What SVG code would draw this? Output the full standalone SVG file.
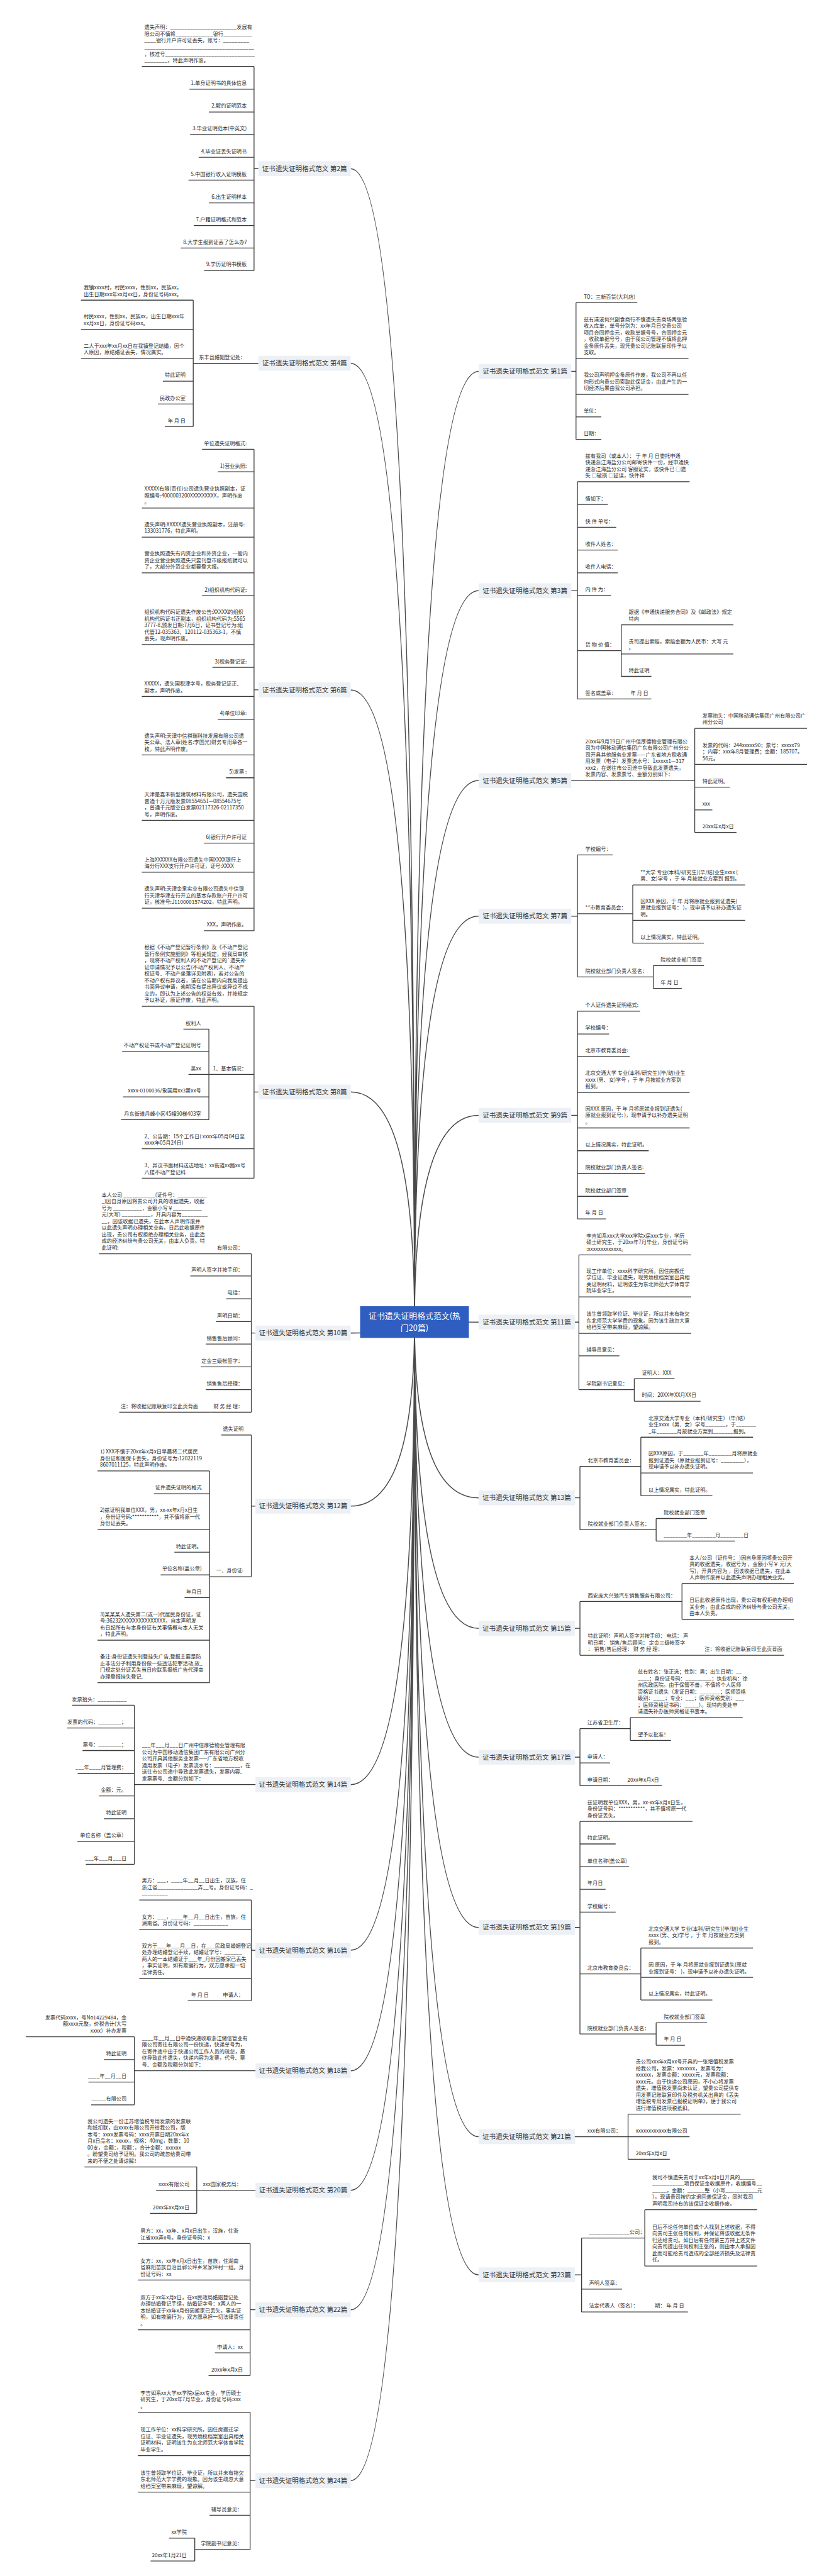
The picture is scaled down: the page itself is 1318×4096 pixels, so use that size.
<svg xmlns="http://www.w3.org/2000/svg" width="1318" height="4096" viewBox="0 0 1318 4096">
<style>
.t{font-family:"Noto Sans CJK SC","Noto Sans",sans-serif;font-size:16px;fill:#2b2b2b}
.e{text-anchor:end}
.u{stroke:#3a3a3a;stroke-width:2.5;fill:none}
.k{stroke:#4a4a4a;stroke-width:3;fill:none}
.lb{fill:#edf0f4}
.lt{font-family:"Noto Sans CJK SC","Noto Sans",sans-serif;font-size:20.5px;fill:#333;text-anchor:middle}
.ct{font-family:"Noto Sans CJK SC","Noto Sans",sans-serif;font-size:25px;fill:#fff;text-anchor:middle}
</style>
<rect width="1318" height="4096" fill="#fff"/>
<g transform="scale(0.5148437)">
<g id="connectors">
<path class="k" d="M1083,521Q1280,521 1280,4083M1083,1122Q1280,1122 1280,4083M1083,2130.7Q1280,2130.7 1280,4083M1083,3372.5Q1280,3372.5 1280,4083M1083,4117Q1280,4117 1280,4083M1083,4651.6Q1280,4651.6 1280,4083M1083,5511.7Q1280,5511.7 1280,4083M1083,6023.2Q1280,6023.2 1280,4083M1083,6395.5Q1280,6395.5 1280,4083M1083,6764.5Q1280,6764.5 1280,4083M1083,7133.5Q1280,7133.5 1280,4083M1083,7661Q1280,7661 1280,4083"/>
<path class="k" d="M1478,1146.8Q1280,1146.8 1280,4083M1478,1824.5Q1280,1824.5 1280,4083M1478,2410.6Q1280,2410.6 1280,4083M1478,2829.6Q1280,2829.6 1280,4083M1478,3444.6Q1280,3444.6 1280,4083M1478,4083.3Q1280,4083.3 1280,4083M1478,4626Q1280,4626 1280,4083M1478,5029Q1280,5029 1280,4083M1478,5426.9Q1280,5426.9 1280,4083M1478,5952.8Q1280,5952.8 1280,4083M1478,6599.1Q1280,6599.1 1280,4083M1478,7025.8Q1280,7025.8 1280,4083"/>
<path class="u" d="M784.5,521H798M784.5,205.3V835.5M784.5,2130.7H798M784.5,1387.7V2874.6M784.5,3372.5H798M784.5,3107.9V3638.8M645,3178.3V3458.2M776,4117H789M776,3872.1V4361.5M776,4651.6H789M776,4431.9V4869.6M647,4543V5197M414.8,5266.6V5757.7M776,6023.2H789M776,5868V6179.2M414.8,6290.4V6500.7M607.6,6692.4V6835.8M772.4,7133.5H789M772.4,6929V7337M772.4,7661H789M772.4,7449.9V7874M601.5,7839V7909.6M596.7,927V1317.3"/>
<path class="u" d="M1764,1146.8H1778.8M1778.8,934.7V1357M1764,1824.5H1783.2M1783.2,1487.8V2158.7M1918.4,1929.7V2089M2145.5,2249.5V2571M1764,2829.6H1783.2M1783.2,2640.5V3017M1954,2733V2912.8M2017.3,2982.3V3052.7M1764,3444.6H1783.2M1783.2,3123.1V3764.4M1775,4083.3H1787.7M1787.7,3875.5V4292M1958.6,4258V4327.6M1775,4626H1790.9M1790.9,4528.6V4724.5M1979,4438.7V4619.4M2026.2,4689.8V4759.3M1775,5029H1790.9M1790.9,4946V5112.2M2106,4890.8V5001M1775,5426.9H1790.9M1790.9,5338.7V5515M1946.5,5304.7V5375.1M1775,5952.8H1790.9M1790.9,5625.4V6281.9M1979,6016.4V6176.7M2026.2,6247.1V6316.6M1939.5,6529.5V6668.7M1775,7025.8H1796M1796,6912.1V7140.3M1991.1,6824.7V6998.6"/>
</g>
<g id="center"><rect x="1112" y="4034" width="336" height="98" fill="#2f5ec0"/><text class="ct" x="1280" y="4073">证书遗失证明格式范文(热</text><text class="ct" x="1280" y="4110">门20篇)</text></g>
<g id="labels">
<g id="L2"><rect class="lb" x="798" y="498" width="285" height="46"/><text class="lt" x="940.5" y="528">证书遗失证明格式范文 第2篇</text></g>
<g id="L4"><rect class="lb" x="798" y="1099" width="285" height="46"/><text class="lt" x="940.5" y="1129">证书遗失证明格式范文 第4篇</text></g>
<g id="L6"><rect class="lb" x="798" y="2107.7" width="285" height="46"/><text class="lt" x="940.5" y="2137.7">证书遗失证明格式范文 第6篇</text></g>
<g id="L8"><rect class="lb" x="798" y="3349.5" width="285" height="46"/><text class="lt" x="940.5" y="3379.5">证书遗失证明格式范文 第8篇</text></g>
<g id="L10"><rect class="lb" x="789" y="4094" width="294" height="46"/><text class="lt" x="936" y="4124">证书遗失证明格式范文 第10篇</text></g>
<g id="L12"><rect class="lb" x="789" y="4628.6" width="294" height="46"/><text class="lt" x="936" y="4658.6">证书遗失证明格式范文 第12篇</text></g>
<g id="L14"><rect class="lb" x="789" y="5488.7" width="294" height="46"/><text class="lt" x="936" y="5518.7">证书遗失证明格式范文 第14篇</text></g>
<g id="L16"><rect class="lb" x="789" y="6000.2" width="294" height="46"/><text class="lt" x="936" y="6030.2">证书遗失证明格式范文 第16篇</text></g>
<g id="L18"><rect class="lb" x="789" y="6372.5" width="294" height="46"/><text class="lt" x="936" y="6402.5">证书遗失证明格式范文 第18篇</text></g>
<g id="L20"><rect class="lb" x="789" y="6741.5" width="294" height="46"/><text class="lt" x="936" y="6771.5">证书遗失证明格式范文 第20篇</text></g>
<g id="L22"><rect class="lb" x="789" y="7110.5" width="294" height="46"/><text class="lt" x="936" y="7140.5">证书遗失证明格式范文 第22篇</text></g>
<g id="L24"><rect class="lb" x="789" y="7638" width="294" height="46"/><text class="lt" x="936" y="7668">证书遗失证明格式范文 第24篇</text></g>
<g id="L1"><rect class="lb" x="1478" y="1123.8" width="286" height="46"/><text class="lt" x="1621" y="1153.8">证书遗失证明格式范文 第1篇</text></g>
<g id="L3"><rect class="lb" x="1478" y="1801.5" width="286" height="46"/><text class="lt" x="1621" y="1831.5">证书遗失证明格式范文 第3篇</text></g>
<g id="L5"><rect class="lb" x="1478" y="2387.6" width="286" height="46"/><text class="lt" x="1621" y="2417.6">证书遗失证明格式范文 第5篇</text></g>
<g id="L7"><rect class="lb" x="1478" y="2806.6" width="286" height="46"/><text class="lt" x="1621" y="2836.6">证书遗失证明格式范文 第7篇</text></g>
<g id="L9"><rect class="lb" x="1478" y="3421.6" width="286" height="46"/><text class="lt" x="1621" y="3451.6">证书遗失证明格式范文 第9篇</text></g>
<g id="L11"><rect class="lb" x="1478" y="4060.3" width="297" height="46"/><text class="lt" x="1626.5" y="4090.3">证书遗失证明格式范文 第11篇</text></g>
<g id="L13"><rect class="lb" x="1478" y="4603" width="297" height="46"/><text class="lt" x="1626.5" y="4633">证书遗失证明格式范文 第13篇</text></g>
<g id="L15"><rect class="lb" x="1478" y="5006" width="297" height="46"/><text class="lt" x="1626.5" y="5036">证书遗失证明格式范文 第15篇</text></g>
<g id="L17"><rect class="lb" x="1478" y="5403.9" width="297" height="46"/><text class="lt" x="1626.5" y="5433.9">证书遗失证明格式范文 第17篇</text></g>
<g id="L19"><rect class="lb" x="1478" y="5929.8" width="297" height="46"/><text class="lt" x="1626.5" y="5959.8">证书遗失证明格式范文 第19篇</text></g>
<g id="L21"><rect class="lb" x="1478" y="6576.1" width="297" height="46"/><text class="lt" x="1626.5" y="6606.1">证书遗失证明格式范文 第21篇</text></g>
<g id="L23"><rect class="lb" x="1478" y="7002.8" width="297" height="46"/><text class="lt" x="1626.5" y="7032.8">证书遗失证明格式范文 第23篇</text></g>
</g>
<g id="b2">
<g id="n2a"><text class="t" x="445.8" y="90.3">遗失声明：_______________________发展有<tspan x="445.8" dy="20.4">限公司不慎将_____________银行__________</tspan><tspan x="445.8" dy="20.4">____银行开户许可证丢失，账号：_________</tspan><tspan x="445.8" dy="20.4">______________________________________</tspan><tspan x="445.8" dy="20.4">，核准号_______________________________</tspan><tspan x="445.8" dy="20.4">________，特此声明作废。</tspan></text><path class="u" d="M437.9,205.3H784.5"/></g>
<g id="n2b"><text class="t e" x="762" y="262.6">1.单身证明书的具体信息</text><path class="u" d="M585,275.6H784.5"/></g>
<g id="n2c"><text class="t e" x="762" y="333">2.解约证明范本</text><path class="u" d="M645,346H784.5"/></g>
<g id="n2d"><text class="t e" x="762" y="402.6">3.毕业证明范本(中英文)</text><path class="u" d="M587,415.6H784.5"/></g>
<g id="n2e"><text class="t e" x="762" y="473">4.毕业证丢失证明书</text><path class="u" d="M613.6,486H784.5"/></g>
<g id="n2f"><text class="t e" x="762" y="543.4">5.中国银行收入证明模板</text><path class="u" d="M582,556.4H784.5"/></g>
<g id="n2g"><text class="t e" x="762" y="613.8">6.出生证明样本</text><path class="u" d="M645,626.8H784.5"/></g>
<g id="n2h"><text class="t e" x="762" y="683.4">7.户籍证明格式和范本</text><path class="u" d="M598.5,696.4H784.5"/></g>
<g id="n2i"><text class="t e" x="762" y="753">8.大学生报到证丢了怎么办?</text><path class="u" d="M558,766H784.5"/></g>
<g id="n2j"><text class="t e" x="762" y="822.5">9.学历证明书模板</text><path class="u" d="M630,835.5H784.5"/></g>
</g>
<g id="b4">
<g id="n4"><text class="t e" x="758" y="1109.2">东丰县婚姻登记处：</text><path class="u" d="M596.7,1122.2H798"/></g>
<g id="n4a"><text class="t" x="258.5" y="893.6">我镇xxxx村，村民xxxx，性别xx，民族xx，<tspan x="258.5" dy="20.4">出生日期xxx年xx月xx日，身份证号码xxx。</tspan></text><path class="u" d="M250,927H596.7"/></g>
<g id="n4b"><text class="t" x="258.5" y="983.6">村民xxxx，性别xx，民族xx，出生日期xxx年<tspan x="258.5" dy="20.4">xx月xx日，身份证号码xxx。</tspan></text><path class="u" d="M250,1017H596.7"/></g>
<g id="n4c"><text class="t" x="258.5" y="1073.6">二人于xxx年xx月xx日在我镇登记结婚，因个<tspan x="258.5" dy="20.4">人原因，原结婚证丢失，情况属实。</tspan></text><path class="u" d="M250,1107H596.7"/></g>
<g id="n4d"><text class="t e" x="573" y="1164.3">特此证明</text><path class="u" d="M503,1177.3H596.7"/></g>
<g id="n4e"><text class="t e" x="573" y="1234.7">民政办公室</text><path class="u" d="M487.6,1247.7H596.7"/></g>
<g id="n4f"><text class="t e" x="573" y="1304.3">年 月 日</text><path class="u" d="M508.8,1317.3H596.7"/></g>
</g>
<g id="b6">
<g id="n6a"><text class="t e" x="762" y="1374.7">单位遗失证明格式:</text><path class="u" d="M624,1387.7H784.5"/></g>
<g id="n6b"><text class="t e" x="762" y="1444.2">1)营业执照:</text><path class="u" d="M673,1457.2H784.5"/></g>
<g id="n6c"><text class="t" x="445.8" y="1515.4">XXXXX有限(责任)公司遗失营业执照副本，证<tspan x="445.8" dy="20.4">照编号:4000003200XXXXXXXXX，声明作废</tspan><tspan x="445.8" dy="20.4">。</tspan></text><path class="u" d="M437.9,1569.2H784.5"/></g>
<g id="n6d"><text class="t" x="445.8" y="1625.7">遗失声明:XXXXX遗失营业执照副本，注册号:<tspan x="445.8" dy="20.4">133031776，特此声明。</tspan></text><path class="u" d="M437.9,1659.1H784.5"/></g>
<g id="n6e"><text class="t" x="445.8" y="1715.6">营业执照遗失有内资企业和外资企业，一般内<tspan x="445.8" dy="20.4">资企业营业执照遗失只要刊登市级报纸就可以</tspan><tspan x="445.8" dy="20.4">了，大部分外资企业都要登大报。</tspan></text><path class="u" d="M437.9,1769.4H784.5"/></g>
<g id="n6f"><text class="t e" x="762" y="1826.8">2)组织机构代码证:</text><path class="u" d="M624,1839.8H784.5"/></g>
<g id="n6g"><text class="t" x="445.8" y="1896.2">组织机构代码证遗失作废公告:XXXXX的组织<tspan x="445.8" dy="20.4">机构代码证书正副本，组织机构代码为;5565</tspan><tspan x="445.8" dy="20.4">3777-8,颁发日期:7月6日，证书登记号为:组</tspan><tspan x="445.8" dy="20.4">代管12-035363、120112-035363-1，不慎</tspan><tspan x="445.8" dy="20.4">丢失，现声明作废。</tspan></text><path class="u" d="M437.9,1990.8H784.5"/></g>
<g id="n6h"><text class="t e" x="762" y="2048.2">3)税务登记证:</text><path class="u" d="M656,2061.2H784.5"/></g>
<g id="n6i"><text class="t" x="445.8" y="2117.7">XXXXX，遗失国税津字号，税务登记证正、<tspan x="445.8" dy="20.4">副本，声明作废。</tspan></text><path class="u" d="M437.9,2151.1H784.5"/></g>
<g id="n6j"><text class="t e" x="762" y="2208.5">4)单位印章:</text><path class="u" d="M672.4,2221.5H784.5"/></g>
<g id="n6k"><text class="t" x="445.8" y="2277.9">遗失声明:天津中信祺瑞科技发展有限公司遗<tspan x="445.8" dy="20.4">失公章、法人章(姓名:李国光)财务专用章各一</tspan><tspan x="445.8" dy="20.4">枚，特此声明作废。</tspan></text><path class="u" d="M437.9,2331.7H784.5"/></g>
<g id="n6l"><text class="t e" x="762" y="2389.2">5)发票 :</text><path class="u" d="M698,2402.2H784.5"/></g>
<g id="n6m"><text class="t" x="445.8" y="2459.4">天津是嘉禾新型建筑材料有限公司，遗失国税<tspan x="445.8" dy="20.4">普通十万元版发票08554651—08554675号</tspan><tspan x="445.8" dy="20.4">，普通千元版空白发票02117326-02117350</tspan><tspan x="445.8" dy="20.4">号，声明作废。</tspan></text><path class="u" d="M437.9,2533.6H784.5"/></g>
<g id="n6n"><text class="t e" x="762" y="2591">6)银行开户许可证</text><path class="u" d="M630,2604H784.5"/></g>
<g id="n6o"><text class="t" x="445.8" y="2660.5">上海XXXXXX有限公司遗失中国XXXX银行上<tspan x="445.8" dy="20.4">海分行XXX支行开户许可证，证号:XXXX</tspan></text><path class="u" d="M437.9,2693.9H784.5"/></g>
<g id="n6p"><text class="t" x="445.8" y="2751.2">遗失声明:天津金泉实业有限公司遗失中信银<tspan x="445.8" dy="20.4">行天津华津支行开立的基本存款账户开户许可</tspan><tspan x="445.8" dy="20.4">证，核准号:J1100001574202，特此声明。</tspan></text><path class="u" d="M437.9,2805H784.5"/></g>
<g id="n6q"><text class="t e" x="762" y="2861.6">XXX，声明作废。</text><path class="u" d="M630,2874.6H784.5"/></g>
</g>
<g id="b8">
<g id="n8a"><text class="t" x="445.8" y="2931.7">根据《不动产登记暂行条例》及《不动产登记<tspan x="445.8" dy="20.4">暂行条例实施细则》等相关规定，经我局审核</tspan><tspan x="445.8" dy="20.4">，现将不动产权利人的不动产登记的`遗失补</tspan><tspan x="445.8" dy="20.4">证申请情况予以公告(不动产权利人、不动产</tspan><tspan x="445.8" dy="20.4">权证号、不动产坐落详见附表)，若对公告的</tspan><tspan x="445.8" dy="20.4">不动产权有异议者，请在公告期内向我局提出</tspan><tspan x="445.8" dy="20.4">书面异议申请，逾期没有提出异议或异议不成</tspan><tspan x="445.8" dy="20.4">立的，即认为上述公告的权益有效，并按规定</tspan><tspan x="445.8" dy="20.4">予以补证，原证作废，特此声明。</tspan></text><path class="u" d="M437.9,3107.9H784.5"/></g>
<g id="n8b"><text class="t e" x="762" y="3305.2">1、基本情况：</text><path class="u" d="M645,3318.2H784.5"/></g>
<g id="n8b1"><text class="t e" x="621" y="3165.3">权利人</text><path class="u" d="M566.4,3178.3H645"/></g>
<g id="n8b2"><text class="t e" x="621" y="3234.8">不动产权证书或不动产登记证明号</text><path class="u" d="M377.3,3247.8H645"/></g>
<g id="n8b3"><text class="t e" x="621" y="3305.2">吴xx</text><path class="u" d="M582,3318.2H645"/></g>
<g id="n8b4"><text class="t e" x="621" y="3374.8">xxxx-0100036/象国用xx3第xx号</text><path class="u" d="M380,3387.8H645"/></g>
<g id="n8b5"><text class="t e" x="621" y="3445.2">丹东街道丹峰小区45幢90梯403室</text><path class="u" d="M373.6,3458.2H645"/></g>
<g id="n8c"><text class="t" x="445.8" y="3514.7">2、公告期：15个工作日( xxxx年05月04日至<tspan x="445.8" dy="20.4">xxxx年05月24日)</tspan></text><path class="u" d="M437.9,3548.1H784.5"/></g>
<g id="n8d"><text class="t" x="445.8" y="3605.4">3、异议书面材料送达地址：xx街道xx路xx号<tspan x="445.8" dy="20.4">八楼不动产登记科</tspan></text><path class="u" d="M437.9,3638.8H784.5"/></g>
</g>
<g id="b10">
<g id="n10a"><text class="t e" x="750" y="3859.1">有限公司：</text><path class="u" d="M668,3872.1H776"/></g>
<g id="n10a1"><text class="t" x="313.6" y="3695.9">本人公司 ___________(证件号：__________<tspan x="313.6" dy="20.4">_)因自身原因将贵公司开具的收据遗失，收据</tspan><tspan x="313.6" dy="20.4">号为 __________，金额小写￥__________</tspan><tspan x="313.6" dy="20.4">元(大写) __________，开具内容为_________</tspan><tspan x="313.6" dy="20.4">__，因该收据已遗失，在此本人声明作废并</tspan><tspan x="313.6" dy="20.4">以此遗失声明办理相关业务。日后此收据原件</tspan><tspan x="313.6" dy="20.4">出现，贵公司有权拒绝办理相关业务，由此造</tspan><tspan x="313.6" dy="20.4">成的经济纠纷与贵公司无关，由本人负责。特</tspan><tspan x="313.6" dy="20.4">此证明!</tspan></text><path class="u" d="M305.8,3872.1H668"/></g>
<g id="n10b"><text class="t e" x="750" y="3927.8">声明人签字并按手印：</text><path class="u" d="M587.6,3940.8H776"/></g>
<g id="n10c"><text class="t e" x="750" y="3998.2">电话：</text><path class="u" d="M698.5,4011.2H776"/></g>
<g id="n10d"><text class="t e" x="750" y="4068.6">声明日期：</text><path class="u" d="M667,4081.6H776"/></g>
<g id="n10e"><text class="t e" x="750" y="4138.2">销售售后顾问：</text><path class="u" d="M635.5,4151.2H776"/></g>
<g id="n10f"><text class="t e" x="750" y="4208.6">定金三级帐签字：</text><path class="u" d="M619.7,4221.6H776"/></g>
<g id="n10g"><text class="t e" x="750" y="4279">销售售后经理：</text><path class="u" d="M635.5,4292H776"/></g>
<g id="n10h"><text class="t e" x="750" y="4348.5">财 务 经 理：</text><path class="u" d="M650,4361.5H776"/></g>
<g id="n10h1"><text class="t e" x="612" y="4348.5">注：将收据记账联复印至此页背面</text><path class="u" d="M368.2,4361.5H650"/></g>
</g>
<g id="b12">
<g id="n12a"><text class="t e" x="752" y="4418.9">遗失证明</text><path class="u" d="M683.3,4431.9H776"/></g>
<g id="n12b"><text class="t e" x="752" y="4856.6">一、身份证:</text><path class="u" d="M647,4869.6H776"/></g>
<g id="n12b1"><text class="t" x="308.8" y="4489.2">1) XXX不慎于20xx年x月x日早晨将二代居民<tspan x="308.8" dy="20.4">身份证和医保卡丢失，身份证号为:12022119</tspan><tspan x="308.8" dy="20.4">8607011125，特此声明作废。</tspan></text><path class="u" d="M301,4543H647"/></g>
<g id="n12b2"><text class="t e" x="623" y="4600.4">证件遗失证明的格式</text><path class="u" d="M475.5,4613.4H647"/></g>
<g id="n12b3"><text class="t" x="308.8" y="4669.9">2)兹证明我单位XXX，男，xx-xx年x月x日生<tspan x="308.8" dy="20.4">，身份证号码:***********，其不慎将原一代</tspan><tspan x="308.8" dy="20.4">身份证丢失。</tspan></text><path class="u" d="M301,4723.7H647"/></g>
<g id="n12b4"><text class="t e" x="623" y="4781.1">特此证明。</text><path class="u" d="M538.5,4794.1H647"/></g>
<g id="n12b5"><text class="t e" x="623" y="4850.7">单位名称(盖公章)</text><path class="u" d="M496,4863.7H647"/></g>
<g id="n12b6"><text class="t e" x="623" y="4921">年月日</text><path class="u" d="M570,4934H647"/></g>
<g id="n12b7"><text class="t" x="308.8" y="4991.4">3)某某某人遗失第二(或一)代居民身份证，证<tspan x="308.8" dy="20.4">号:36232XXXXXXXXXXXXXXX，自本声明发</tspan><tspan x="308.8" dy="20.4">布日起所有与本身份证有关事情概与本人无关</tspan><tspan x="308.8" dy="20.4">，特此声明。</tspan></text><path class="u" d="M301,5065.6H647"/></g>
<g id="n12b8"><text class="t" x="308.8" y="5122.8">备注:身份证遗失刊登挂失广告,登报主要是防<tspan x="308.8" dy="20.4">止非法分子利用身份做一些违法犯罪活动,故_</tspan><tspan x="308.8" dy="20.4">门规定处分证丢失当日应联系报纸广告代理商</tspan><tspan x="308.8" dy="20.4">办理登报挂失登记.</tspan></text><path class="u" d="M301,5197H647"/></g>
</g>
<g id="b14">
<g id="n14"><text class="t" x="437.9" y="5396.7">___年___月___日广州中信厚德物业管理有限<tspan x="437.9" dy="20.4">公司为中国移动通信集团广东有限公司广州分</tspan><tspan x="437.9" dy="20.4">公司开具其他服务业发票——广东省地方税收</tspan><tspan x="437.9" dy="20.4">通用发票（电子）发票流水号：_________，在</tspan><tspan x="437.9" dy="20.4">送往市公司途中导致此发票遗失，发票内容、</tspan><tspan x="437.9" dy="20.4">发票票号、金额分别如下：</tspan></text><path class="u" d="M414.8,5511.7H789"/></g>
<g id="n14a"><text class="t e" x="391" y="5253.6">发票抬头：__________</text><path class="u" d="M223,5266.6H414.8"/></g>
<g id="n14b"><text class="t e" x="391" y="5324">发票的代码：________；</text><path class="u" d="M207,5337H414.8"/></g>
<g id="n14c"><text class="t e" x="391" y="5393.5">票号：________；</text><path class="u" d="M255,5406.5H414.8"/></g>
<g id="n14d"><text class="t e" x="391" y="5463.9">___年____月管理费；</text><path class="u" d="M240,5476.9H414.8"/></g>
<g id="n14e"><text class="t e" x="391" y="5533.5">金额：元。</text><path class="u" d="M305.8,5546.5H414.8"/></g>
<g id="n14f"><text class="t e" x="391" y="5603.9">特此证明</text><path class="u" d="M321,5616.9H414.8"/></g>
<g id="n14g"><text class="t e" x="391" y="5674.3">单位名称（盖公章）</text><path class="u" d="M239,5687.3H414.8"/></g>
<g id="n14h"><text class="t e" x="391" y="5744.7">___年___月___日</text><path class="u" d="M265,5757.7H414.8"/></g>
</g>
<g id="b16">
<g id="n16a"><text class="t" x="437.9" y="5814.2">男方：___，____年__月__日出生，汉族，住<tspan x="437.9" dy="20.4">浙江省______________弄__号。身份证号码：_</tspan><tspan x="437.9" dy="20.4">_________</tspan></text><path class="u" d="M430,5868H776"/></g>
<g id="n16b"><text class="t" x="437.9" y="5925.3">女方：___，____年__月__日出生，苗族，住<tspan x="437.9" dy="20.4">湖南省。身份证号码：____________</tspan></text><path class="u" d="M430,5958.7H776"/></g>
<g id="n16c"><text class="t" x="437.9" y="6015.1">双方于___年___月__日，在___民政局婚姻登记<tspan x="437.9" dy="20.4">处办理结婚登记手续，结婚证字号：______</tspan><tspan x="437.9" dy="20.4">两人的一本结婚证于___年_月份因搬家已丢失</tspan><tspan x="437.9" dy="20.4">，事实证明，如有欺骗行为，双方愿承担一切</tspan><tspan x="437.9" dy="20.4">法律责任。</tspan></text><path class="u" d="M430,6109.7H776"/></g>
<g id="n16d"><text class="t e" x="752" y="6166.2">申请人：</text><path class="u" d="M683,6179.2H776"/></g>
<g id="n16d1"><text class="t e" x="645" y="6166.2">年 月 日</text><path class="u" d="M579.7,6179.2H683"/></g>
</g>
<g id="b18">
<g id="n18"><text class="t" x="437.9" y="6300.9">____年__月__日中通快递收取浙江储信管业有<tspan x="437.9" dy="20.4">限公司寄往有限公司一份快递，快递单号为，</tspan><tspan x="437.9" dy="20.4">在寄件途中由于快递公司工作人员的疏忽，最</tspan><tspan x="437.9" dy="20.4">终导致此件遗失，快递内容为发票，代号、票</tspan><tspan x="437.9" dy="20.4">号、金额及税额分别如下：</tspan></text><path class="u" d="M414.8,6395.5H789"/></g>
<g id="n18a"><text class="t e" x="391" y="6236.6">发票代码xxxx，号No14229484，金<tspan x="391" dy="20.4">额xxxx元整，价税合计(大写</tspan><tspan x="391" dy="20.4">xxxx）补办发票</tspan></text><path class="u" d="M80,6290.4H414.8"/></g>
<g id="n18b"><text class="t e" x="391" y="6347.8">特此证明</text><path class="u" d="M321,6360.8H414.8"/></g>
<g id="n18c"><text class="t e" x="391" y="6417.3">____年__月__日</text><path class="u" d="M273,6430.3H414.8"/></g>
<g id="n18d"><text class="t e" x="391" y="6487.7">_____有限公司</text><path class="u" d="M281.5,6500.7H414.8"/></g>
</g>
<g id="b20">
<g id="n20"><text class="t e" x="746" y="6751.5">xxx国家税务局：</text><path class="u" d="M607.6,6764.5H789"/></g>
<g id="n20a"><text class="t" x="270" y="6557">我公司遗失一份江苏增值税专用发票的发票联<tspan x="270" dy="20.4">和抵扣联，由xxxx有限公司开给我公司，版</tspan><tspan x="270" dy="20.4">本号：xxxx发票号码：xxxx开票日期20xx年x</tspan><tspan x="270" dy="20.4">月x日品名：xxxxx，规格：40mg，数量：10</tspan><tspan x="270" dy="20.4">00支，金额：，税额：，合计金额：xxxxxx</tspan><tspan x="270" dy="20.4">。盼望贵司给予证明。我公司的疏忽给贵司带</tspan><tspan x="270" dy="20.4">来的不便之处请谅解！</tspan></text><path class="u" d="M261,6692.4H607.6"/></g>
<g id="n20b"><text class="t e" x="585" y="6752.4">xxxx有限公司</text><path class="u" d="M482,6765.4H607.6"/></g>
<g id="n20c"><text class="t e" x="585" y="6822.8">20xx年xx月xx日</text><path class="u" d="M463,6835.8H607.6"/></g>
</g>
<g id="b22">
<g id="n22a"><text class="t" x="433.6" y="6895.6">男方：xx，xx年．x月x日出生，汉族，住浙<tspan x="433.6" dy="20.4">江省xxx弄x号。身份证号码：x</tspan></text><path class="u" d="M425.8,6929H772.4"/></g>
<g id="n22b"><text class="t" x="433.6" y="6988.1">女方：xx，xx年x月x日出生，苗族，住湖南<tspan x="433.6" dy="20.4">省麻阳苗族自治县郭公坪乡米家坪村一组。身</tspan><tspan x="433.6" dy="20.4">份证号码：xx</tspan></text><path class="u" d="M425.8,7041.9H772.4"/></g>
<g id="n22c"><text class="t" x="433.6" y="7100.8">双方于xx年x月x日，在xx民政局婚姻登记处<tspan x="433.6" dy="20.4">办理结婚登记手续，结婚证字号：x两人的一</tspan><tspan x="433.6" dy="20.4">本结婚证于xx年x月份因搬家已丢失，事实证</tspan><tspan x="433.6" dy="20.4">明，如有欺骗行为，双方愿承担一切法律责任</tspan><tspan x="433.6" dy="20.4">。</tspan></text><path class="u" d="M425.8,7195.4H772.4"/></g>
<g id="n22d"><text class="t e" x="750" y="7253.7">申请人：xx</text><path class="u" d="M663.3,7266.7H772.4"/></g>
<g id="n22e"><text class="t e" x="750" y="7324">20xx年x月x日</text><path class="u" d="M644,7337H772.4"/></g>
</g>
<g id="b24">
<g id="n24a"><text class="t" x="433.6" y="7396.1">李吉如系xx大学xx学院x届xx专业，学历硕士<tspan x="433.6" dy="20.4">研究生，于20xx年7月毕业，身份证号码:xxx</tspan><tspan x="433.6" dy="20.4">。</tspan></text><path class="u" d="M425.8,7449.9H772.4"/></g>
<g id="n24b"><text class="t" x="433.6" y="7509.7">现工作单位：xx科学研究所。因住房搬迁学<tspan x="433.6" dy="20.4">位证、毕业证遗失，现劳烦校档案室出具相关</tspan><tspan x="433.6" dy="20.4">证明材料，证明该生为东北师范大学体育学院</tspan><tspan x="433.6" dy="20.4">毕业学生。</tspan></text><path class="u" d="M425.8,7583.9H772.4"/></g>
<g id="n24c"><text class="t" x="433.6" y="7642.9">该生曾领取学位证、毕业证，所以并未有拖欠<tspan x="433.6" dy="20.4">东北师范大学学费的现象。因为该生疏忽大意</tspan><tspan x="433.6" dy="20.4">给档案室带来麻烦，望谅解。</tspan></text><path class="u" d="M425.8,7696.7H772.4"/></g>
<g id="n24d"><text class="t e" x="748" y="7755">辅导员意见：</text><path class="u" d="M647,7768H772.4"/></g>
<g id="n24e"><text class="t e" x="748" y="7861">学院副书记意见：</text><path class="u" d="M601.5,7874H772.4"/></g>
<g id="n24e1"><text class="t e" x="577" y="7826">xx学院</text><path class="u" d="M522,7839H601.5"/></g>
<g id="n24e2"><text class="t e" x="577" y="7896.6">20xx年1月21日</text><path class="u" d="M465,7909.6H601.5"/></g>
</g>
<g id="b1">
<g id="n1a"><text class="t" x="1802.3" y="921.7">TO：三新百货(大利店)</text><path class="u" d="M1778.8,934.7H1968"/></g>
<g id="n1b"><text class="t" x="1802.3" y="992">兹有清溪何兴副食商行不慎遗失贵商场两张验<tspan x="1802.3" dy="20.4">收入库单，单号分别为：xx年月日交贵公司</tspan><tspan x="1802.3" dy="20.4">项目合同押金元，收款单据号号，合同押金元</tspan><tspan x="1802.3" dy="20.4">，收款单据号号，由于我公司管理不慎将此押</tspan><tspan x="1802.3" dy="20.4">金条原件丢失，现凭贵公司记账联复印件予以</tspan><tspan x="1802.3" dy="20.4">支取。</tspan></text><path class="u" d="M1778.8,1107H2126"/></g>
<g id="n1c"><text class="t" x="1802.3" y="1164.2">我公司声明押金条原件作废，我公司不再以任<tspan x="1802.3" dy="20.4">何形式向贵公司索取此保证金，由此产生的一</tspan><tspan x="1802.3" dy="20.4">切经济后果由我公司承担。</tspan></text><path class="u" d="M1778.8,1218H2126"/></g>
<g id="n1d"><text class="t" x="1802.3" y="1274.6">单位：</text><path class="u" d="M1778.8,1287.6H1857"/></g>
<g id="n1e"><text class="t" x="1802.3" y="1344">日期：</text><path class="u" d="M1778.8,1357H1857"/></g>
</g>
<g id="b3">
<g id="n3a"><text class="t" x="1807.5" y="1413.6">兹有我司（或本人）： 于 年 月 日委托申通<tspan x="1807.5" dy="20.4">快递浙江海盐分公司邮寄快件一份，经申通快</tspan><tspan x="1807.5" dy="20.4">递浙江海盐分公司 客服证实，该快件已 □遗</tspan><tspan x="1807.5" dy="20.4">失 □破损 □延误，快件祥</tspan></text><path class="u" d="M1783.2,1487.8H2129.5"/></g>
<g id="n3b"><text class="t" x="1807.5" y="1545.2">情如下：</text><path class="u" d="M1783.2,1558.2H1877"/></g>
<g id="n3c"><text class="t" x="1807.5" y="1615.6">快 件 单号：</text><path class="u" d="M1783.2,1628.6H1903"/></g>
<g id="n3d"><text class="t" x="1807.5" y="1686">收件人姓名：</text><path class="u" d="M1783.2,1699H1908"/></g>
<g id="n3e"><text class="t" x="1807.5" y="1756.4">收件人电话：</text><path class="u" d="M1783.2,1769.4H1908"/></g>
<g id="n3f"><text class="t" x="1807.5" y="1826">内 件 为：</text><path class="u" d="M1783.2,1839H1887"/></g>
<g id="n3g"><text class="t" x="1807.5" y="1996.4">货 物 价 值：</text><path class="u" d="M1783.2,2009.4H1918.4"/></g>
<g id="n3g1"><text class="t" x="1941.4" y="1896.3">跟据《申通快递服务合同》及《邮政法》规定<tspan x="1941.4" dy="20.4">特向</tspan></text><path class="u" d="M1918.4,1929.7H2264.7"/></g>
<g id="n3g2"><text class="t" x="1941.4" y="1986.2">贵司提出索赔，索赔金额为人民币：大写 元<tspan x="1941.4" dy="20.4">。</tspan></text><path class="u" d="M1918.4,2019.6H2264.7"/></g>
<g id="n3g3"><text class="t" x="1941.4" y="2076">特此证明</text><path class="u" d="M1918.4,2089H2011.5"/></g>
<g id="n3h"><text class="t" x="1807.5" y="2145.7">签名或盖章：</text><path class="u" d="M1783.2,2158.7H1925"/></g>
<g id="n3h1"><text class="t" x="1947" y="2145.7">年 月 日</text><path class="u" d="M1925,2158.7H2011.5"/></g>
</g>
<g id="b5">
<g id="n5"><text class="t" x="1807.5" y="2295.6">20xx年9月19日广州中信厚德物业管理有限公<tspan x="1807.5" dy="20.4">司为中国移动通信集团广东有限公司广州分公</tspan><tspan x="1807.5" dy="20.4">司开具其他服务业发票——广东省地方税收通</tspan><tspan x="1807.5" dy="20.4">用发票（电子）发票流水号：1xxxxx1—317</tspan><tspan x="1807.5" dy="20.4">xxx2，在送往市公司途中导致此发票遗失，</tspan><tspan x="1807.5" dy="20.4">发票内容、发票票号、金额分别如下：</tspan></text><path class="u" d="M1764,2410.6H2145.5"/></g>
<g id="n5a"><text class="t" x="2169" y="2216.1">发票抬头：中国移动通信集团广州有限公司广<tspan x="2169" dy="20.4">州分公司</tspan></text><path class="u" d="M2145.5,2249.5H2492"/></g>
<g id="n5b"><text class="t" x="2169" y="2306.8">发票的代码：244xxxxx90；票号：xxxxx79<tspan x="2169" dy="20.4">；内容：xxx年8月管理费；金额：185707。</tspan><tspan x="2169" dy="20.4">56元。</tspan></text><path class="u" d="M2145.5,2360.6H2492"/></g>
<g id="n5c"><text class="t" x="2169" y="2418">特此证明。</text><path class="u" d="M2145.5,2431H2254"/></g>
<g id="n5d"><text class="t" x="2169" y="2488.4">xxx</text><path class="u" d="M2145.5,2501.4H2199.7"/></g>
<g id="n5e"><text class="t" x="2169" y="2558">20xx年x月x日</text><path class="u" d="M2145.5,2571H2274.3"/></g>
</g>
<g id="b7">
<g id="n7a"><text class="t" x="1807.5" y="2627.5">学校编号：</text><path class="u" d="M1783.2,2640.5H1892.3"/></g>
<g id="n7b"><text class="t" x="1807.5" y="2809">**市教育委员会：</text><path class="u" d="M1783.2,2822H1954"/></g>
<g id="n7b1"><text class="t" x="1977.7" y="2699.6">**大学 专业(本科/研究生)(毕/结)业生xxxx (<tspan x="1977.7" dy="20.4">男、女)学号 ，于 年 月按就业方案到 报到。</tspan></text><path class="u" d="M1954,2733H2301"/></g>
<g id="n7b2"><text class="t" x="1977.7" y="2788.6">因XXX 原因，于 年 月将原就业报到证遗失(<tspan x="1977.7" dy="20.4">原就业报到证号： )，现申请予以补办遗失证</tspan><tspan x="1977.7" dy="20.4">明。</tspan></text><path class="u" d="M1954,2842.4H2301"/></g>
<g id="n7b3"><text class="t" x="1977.7" y="2899.8">以上情况属实，特此证明。</text><path class="u" d="M1954,2912.8H2174"/></g>
<g id="n7c"><text class="t" x="1807.5" y="3004">院校就业部门负责人签名：</text><path class="u" d="M1783.2,3017H2017.3"/></g>
<g id="n7c1"><text class="t" x="2040" y="2969.3">院校就业部门签章</text><path class="u" d="M2017.3,2982.3H2174"/></g>
<g id="n7c2"><text class="t" x="2040" y="3039.7">年 月 日</text><path class="u" d="M2017.3,3052.7H2105.3"/></g>
</g>
<g id="b9">
<g id="n9a"><text class="t" x="1807.5" y="3110.1">个人证件遗失证明格式:</text><path class="u" d="M1783.2,3123.1H1976.5"/></g>
<g id="n9b"><text class="t" x="1807.5" y="3180.5">学校编号：</text><path class="u" d="M1783.2,3193.5H1880.8"/></g>
<g id="n9c"><text class="t" x="1807.5" y="3250">北京市教育委员会:</text><path class="u" d="M1783.2,3263H1944.6"/></g>
<g id="n9d"><text class="t" x="1807.5" y="3320.4">北京交通大学 专业(本科/研究生)(毕/结)业生<tspan x="1807.5" dy="20.4">xxxx (男、女)学号 ，于 年 月按就业方案到</tspan><tspan x="1807.5" dy="20.4">报到。</tspan></text><path class="u" d="M1783.2,3374.2H2129.5"/></g>
<g id="n9e"><text class="t" x="1807.5" y="3429.8">因XXX 原因，于 年 月将原就业报到证遗失(<tspan x="1807.5" dy="20.4">原就业报到证号: )，现申请予以补办遗失证明</tspan><tspan x="1807.5" dy="20.4">。</tspan></text><path class="u" d="M1783.2,3483.6H2129.5"/></g>
<g id="n9f"><text class="t" x="1807.5" y="3541">以上情况属实，特此证明。</text><path class="u" d="M1783.2,3554H2003.2"/></g>
<g id="n9g"><text class="t" x="1807.5" y="3611.4">院校就业部门负责人签名:</text><path class="u" d="M1783.2,3624.4H1991.8"/></g>
<g id="n9h"><text class="t" x="1807.5" y="3681.8">院校就业部门签章</text><path class="u" d="M1783.2,3694.8H1940.7"/></g>
<g id="n9i"><text class="t" x="1807.5" y="3751.4">年 月 日</text><path class="u" d="M1783.2,3764.4H1871.2"/></g>
</g>
<g id="b11">
<g id="n11a"><text class="t" x="1810.6" y="3821.7">李吉如系xxx大学xxx学院x届xxx专业，学历<tspan x="1810.6" dy="20.4">硕士研究生，于20xx年7月毕业，身份证号码</tspan><tspan x="1810.6" dy="20.4">:xxxxxxxxxxxxx。</tspan></text><path class="u" d="M1787.7,3875.5H2134.6"/></g>
<g id="n11b"><text class="t" x="1810.6" y="3931.1">现工作单位：xxxx科学研究所。因住房搬迁<tspan x="1810.6" dy="20.4">学位证、毕业证遗失，现劳烦校档案室出具相</tspan><tspan x="1810.6" dy="20.4">关证明材料，证明该生为东北师范大学体育学</tspan><tspan x="1810.6" dy="20.4">院毕业学生。</tspan></text><path class="u" d="M1787.7,4005.3H2134.6"/></g>
<g id="n11c"><text class="t" x="1810.6" y="4064.2">该生曾领取学位证、毕业证，所以并未有拖欠<tspan x="1810.6" dy="20.4">东北师范大学学费的现象。因为该生疏忽大意</tspan><tspan x="1810.6" dy="20.4">给档案室带来麻烦，望谅解。</tspan></text><path class="u" d="M1787.7,4118H2134.6"/></g>
<g id="n11d"><text class="t" x="1810.6" y="4174.6">辅导员意见：</text><path class="u" d="M1787.7,4187.6H1912.7"/></g>
<g id="n11e"><text class="t" x="1810.6" y="4279">学院副书记意见：</text><path class="u" d="M1787.7,4292H1958.6"/></g>
<g id="n11e1"><text class="t" x="1982.2" y="4245">证明人：XXX</text><path class="u" d="M1958.6,4258H2083"/></g>
<g id="n11e2"><text class="t" x="1982.2" y="4314.6">时间：20XX年XX月XX日</text><path class="u" d="M1958.6,4327.6H2163.3"/></g>
</g>
<g id="b13">
<g id="n13a"><text class="t" x="1815" y="4515.6">北京市教育委员会：</text><path class="u" d="M1790.9,4528.6H1979"/></g>
<g id="n13a1"><text class="t" x="2002.6" y="4384.9">北京交通大学专业（本科/研究生）（毕/结）<tspan x="2002.6" dy="20.4">业生xxxx（男、女）学号_______，于_______</tspan><tspan x="2002.6" dy="20.4">_年_______月按就业方案到_______报到。</tspan></text><path class="u" d="M1979,4438.7H2325.3"/></g>
<g id="n13a2"><text class="t" x="2002.6" y="4495.2">因XXX原因，于_______年________月将原就业<tspan x="2002.6" dy="20.4">报到证遗失（原就业报到证号：________），</tspan><tspan x="2002.6" dy="20.4">现申请予以补办遗失证明。</tspan></text><path class="u" d="M1979,4549H2325.3"/></g>
<g id="n13a3"><text class="t" x="2002.6" y="4606.4">以上情况属实，特此证明。</text><path class="u" d="M1979,4619.4H2199.7"/></g>
<g id="n13b"><text class="t" x="1815" y="4711.5">院校就业部门负责人签名：</text><path class="u" d="M1790.9,4724.5H2026.2"/></g>
<g id="n13b1"><text class="t" x="2049.8" y="4676.8">院校就业部门签章</text><path class="u" d="M2026.2,4689.8H2183"/></g>
<g id="n13b2"><text class="t" x="2049.8" y="4746.3">________年________月________日</text><path class="u" d="M2026.2,4759.3H2269.8"/></g>
</g>
<g id="b15">
<g id="n15a"><text class="t" x="1815" y="4933">西安庞大兴驰汽车销售服务有限公司：</text><path class="u" d="M1790.9,4946H2106"/></g>
<g id="n15a1"><text class="t" x="2129" y="4816.6">本人/公司（证件号： )因自身原因将贵公司开<tspan x="2129" dy="20.4">具的收据遗失，收据号为 ，金额小写￥ 元(大</tspan><tspan x="2129" dy="20.4">写)，开具内容为 ，因该收据已遗失，在此本</tspan><tspan x="2129" dy="20.4">人声明作废并以此遗失声明办理相关业务。</tspan></text><path class="u" d="M2106,4890.8H2451.6"/></g>
<g id="n15a2"><text class="t" x="2129" y="4947.2">日后此收据原件出现，贵公司有权拒绝办理相<tspan x="2129" dy="20.4">关业务，由此造成的经济纠纷与贵公司无关，</tspan><tspan x="2129" dy="20.4">由本人负责。</tspan></text><path class="u" d="M2106,5001H2451.6"/></g>
<g id="n15b"><text class="t" x="1815" y="5058.4">特此证明！声明人签字并按手印： 电话： 声<tspan x="1815" dy="20.4">明日期： 销售/售后顾问： 定金三级帐签字</tspan><tspan x="1815" dy="20.4">： 销售/售后经理： 财 务 经 理：</tspan></text><path class="u" d="M1790.9,5112.2H2159.5"/></g>
<g id="n15b1"><text class="t" x="2176" y="5099.2">注：将收据记账联复印至此页背面</text><path class="u" d="M2159.5,5112.2H2421"/></g>
</g>
<g id="b17">
<g id="n17a"><text class="t" x="1813.8" y="5325.7">江苏省卫生厅：</text><path class="u" d="M1790.9,5338.7H1946.5"/></g>
<g id="n17a1"><text class="t" x="1969.4" y="5169.3">兹有姓名：张正选；性别：男；出生日期：__<tspan x="1969.4" dy="20.4">____；身份证号码：_________；执业机构：徐</tspan><tspan x="1969.4" dy="20.4">州民政医院。由于保管不善，不慎将个人医师</tspan><tspan x="1969.4" dy="20.4">资格证书遗失（发证日期：_______；医师资格</tspan><tspan x="1969.4" dy="20.4">级别：____；专业：___；医师资格类别：___</tspan><tspan x="1969.4" dy="20.4">；医师资格证书码：_____）。现特向贵处申</tspan><tspan x="1969.4" dy="20.4">请遗失补办医师资格证书壹本。</tspan></text><path class="u" d="M1946.5,5304.7H2293.4"/></g>
<g id="n17a2"><text class="t" x="1969.4" y="5362.1">望予以批准！</text><path class="u" d="M1946.5,5375.1H2072"/></g>
<g id="n17b"><text class="t" x="1813.8" y="5431.7">申请人：</text><path class="u" d="M1790.9,5444.7H1884"/></g>
<g id="n17c"><text class="t" x="1813.8" y="5502">申请日期：</text><path class="u" d="M1790.9,5515H1920"/></g>
<g id="n17c1"><text class="t" x="1937.6" y="5502">20xx年x月x日</text><path class="u" d="M1920,5515H2043.4"/></g>
</g>
<g id="b19">
<g id="n19a"><text class="t" x="1813.8" y="5571.6">兹证明我单位XXX，男，xx-xx年x月x日生，<tspan x="1813.8" dy="20.4">身份证号码：***********，其不慎将原一代</tspan><tspan x="1813.8" dy="20.4">身份证丢失。</tspan></text><path class="u" d="M1790.9,5625.4H2138.4"/></g>
<g id="n19b"><text class="t" x="1813.8" y="5681.9">特此证明。</text><path class="u" d="M1790.9,5694.9H1901.2"/></g>
<g id="n19c"><text class="t" x="1813.8" y="5752.3">单位名称(盖公章)</text><path class="u" d="M1790.9,5765.3H1942.7"/></g>
<g id="n19d"><text class="t" x="1813.8" y="5821.9">年月日</text><path class="u" d="M1790.9,5834.9H1870"/></g>
<g id="n19e"><text class="t" x="1813.8" y="5892.3">学校编号：</text><path class="u" d="M1790.9,5905.3H1901.2"/></g>
<g id="n19f"><text class="t" x="1813.8" y="6083.1">北京市教育委员会：</text><path class="u" d="M1790.9,6096.1H1979"/></g>
<g id="n19f1"><text class="t" x="2002.6" y="5962.6">北京交通大学 专业(本科/研究生)(毕/结)业生<tspan x="2002.6" dy="20.4">xxxx (男、女)学号 ，于 年 月按就业方案到</tspan><tspan x="2002.6" dy="20.4">报到。</tspan></text><path class="u" d="M1979,6016.4H2325.3"/></g>
<g id="n19f2"><text class="t" x="2002.6" y="6073.7">因 原因，于 年 月将原就业报到证遗失(原就<tspan x="2002.6" dy="20.4">业报到证号： )，现申请予以补办遗失证明。</tspan></text><path class="u" d="M1979,6107.1H2325.3"/></g>
<g id="n19f3"><text class="t" x="2002.6" y="6163.7">以上情况属实，特此证明。</text><path class="u" d="M1979,6176.7H2199.7"/></g>
<g id="n19g"><text class="t" x="1813.8" y="6268.9">院校就业部门负责人签名：</text><path class="u" d="M1790.9,6281.9H2026.2"/></g>
<g id="n19g1"><text class="t" x="2049.8" y="6234.1">院校就业部门签章</text><path class="u" d="M2026.2,6247.1H2183"/></g>
<g id="n19g2"><text class="t" x="2049.8" y="6303.6">年 月 日</text><path class="u" d="M2026.2,6316.6H2114.9"/></g>
</g>
<g id="b21">
<g id="n21"><text class="t" x="1813.8" y="6586.1">xxx有限公司：</text><path class="u" d="M1775,6599.1H1939.5"/></g>
<g id="n21a"><text class="t" x="1963" y="6373.7">贵公司xxx年x月xx号开具的一张增值税发票<tspan x="1963" dy="20.4">给我公司，发票：xxxxxxx，发票号为：</tspan><tspan x="1963" dy="20.4">xxxxxx，发票金额：xxxxx元，发票税额：</tspan><tspan x="1963" dy="20.4">xxxx元。由于快递公司原因，不小心将发票</tspan><tspan x="1963" dy="20.4">遗失，增值税发票尚未认证，望贵公司提供专</tspan><tspan x="1963" dy="20.4">用发票记账联复印件及税务机关出具的《丢失</tspan><tspan x="1963" dy="20.4">增值税专用发票已报税证明单》，便于我公司</tspan><tspan x="1963" dy="20.4">进行增值税进项税抵扣。</tspan></text><path class="u" d="M1939.5,6529.5H2287"/></g>
<g id="n21b"><text class="t" x="1963" y="6586.1">xxxxxxxxxxxx有限公司</text><path class="u" d="M1939.5,6599.1H2129.5"/></g>
<g id="n21c"><text class="t" x="1963" y="6655.7">20xx年x月x日</text><path class="u" d="M1939.5,6668.7H2068.3"/></g>
</g>
<g id="b23">
<g id="n23a"><text class="t" x="1819" y="6899.1">______________公司：</text><path class="u" d="M1796,6912.1H1991.1"/></g>
<g id="n23a1"><text class="t" x="2014" y="6730.1">我司不慎遗失贵司于xx年x月x日开具的_____<tspan x="2014" dy="20.4">___________项目保证金收据原件，收据编号__</tspan><tspan x="2014" dy="20.4">_____，金额：______整（小写___________元</tspan><tspan x="2014" dy="20.4">）。现请贵司按约定退回盖保证金，同时我司</tspan><tspan x="2014" dy="20.4">声明我司持有的该保证金收据作废。</tspan></text><path class="u" d="M1991.1,6824.7H2338"/></g>
<g id="n23a2"><text class="t" x="2014" y="6883.6">日后不论任何单位或个人找到上述收据，不得<tspan x="2014" dy="20.4">向贵司主张任何权利，并保证将该收据无条件</tspan><tspan x="2014" dy="20.4">归还给贵司。如日后有任何第三方持上述文件</tspan><tspan x="2014" dy="20.4">向贵司提出任何权利主张的，则由本人承担因</tspan><tspan x="2014" dy="20.4">此而可能给贵司造成的全部经济损失及法律责</tspan><tspan x="2014" dy="20.4">任。</tspan></text><path class="u" d="M1991.1,6998.6H2338"/></g>
<g id="n23b"><text class="t" x="1819" y="7056.9">声明人签章：</text><path class="u" d="M1796,7069.9H1921"/></g>
<g id="n23c"><text class="t" x="1819" y="7127.3">法定代表人（签名）：</text><path class="u" d="M1796,7140.3H2005"/></g>
<g id="n23c1"><text class="t" x="2022.4" y="7127.3">期： 年 月 日</text><path class="u" d="M2005,7140.3H2124.4"/></g>
</g>
</g>
</svg>
